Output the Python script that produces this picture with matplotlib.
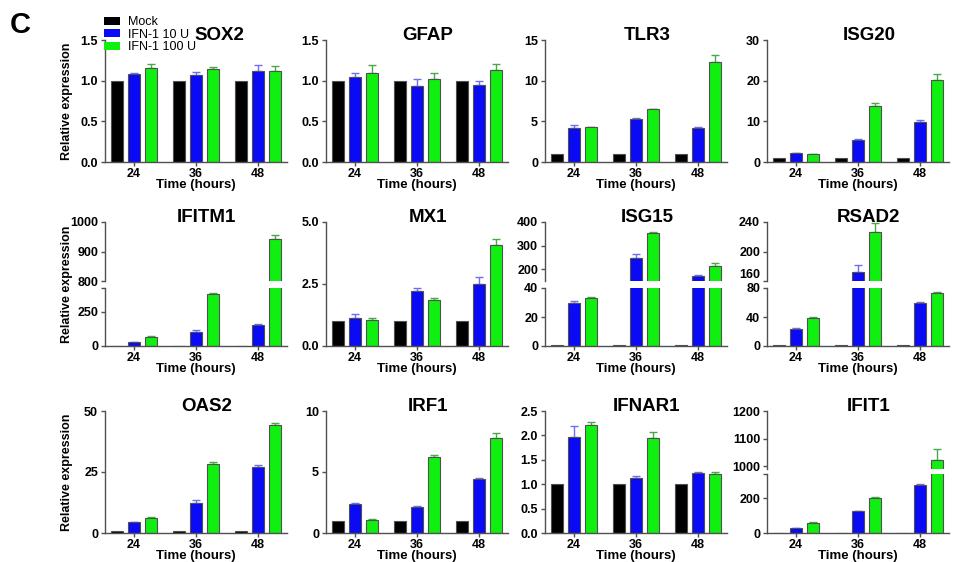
import matplotlib
matplotlib.use("Agg")
from matplotlib import pyplot as plt
from matplotlib.patches import Patch
import numpy as np

plt.rcParams["font.family"] = ["Liberation Sans", "DejaVu Sans"]
plt.rcParams["font.weight"] = "bold"

genes = ["SOX2", "GFAP", "TLR3", "ISG20",
         "IFITM1", "MX1", "ISG15", "RSAD2",
         "OAS2", "IRF1", "IFNAR1", "IFIT1"]
hours = ["24", "36", "48"]
series_names = ["Mock", "IFN-1 10 U", "IFN-1 100 U"]

mock_vals = [[1, 1, 1]] * 12

ifn10_vals = [[1.08, 1.07, 1.12], [1.04, 0.93, 0.95], [4.2, 5.3, 4.2], [2.2, 5.3, 9.8],
              [29, 103, 154], [1.12, 2.2, 2.5], [30, 247, 170], [23.4, 172, 59],
              [4.4, 12.3, 26.9], [2.35, 2.15, 4.45], [1.97, 1.12, 1.22], [29, 124, 276]]
ifn10_err = [[0.02, 0.04, 0.07], [0.06, 0.09, 0.04], [0.3, 0.1, 0.1], [0.1, 0.3, 0.6],
             [3, 12, 4], [0.16, 0.12, 0.28], [1, 17, 7], [0.8, 10, 2],
             [0.3, 1.4, 1.0], [0.15, 0.06, 0.06], [0.22, 0.04, 0.02], [2, 4, 7]]

ifn100_vals = [[1.15, 1.14, 1.12], [1.09, 1.02, 1.13], [4.25, 6.5, 12.3], [1.9, 13.7, 20.2],
               [66, 382, 943], [1.03, 1.85, 4.07], [33, 353, 212], [38.6, 227, 73],
               [6.3, 28.4, 44.1], [1.1, 6.2, 7.8], [2.22, 1.95, 1.2], [59, 200, 1024]]
ifn100_err = [[0.05, 0.03, 0.06], [0.10, 0.08, 0.08], [0.1, 0.05, 0.9], [0.1, 0.7, 1.4],
              [5, 8, 14], [0.11, 0.1, 0.26], [1, 3, 13], [0.8, 12, 1],
              [0.3, 0.8, 0.9], [0.03, 0.2, 0.4], [0.05, 0.12, 0.05], [2, 8, 40]]

# axis setup: (ylim, ticks, labels) ; broken panels have (upper, lower)
axis_cfg = {
    "SOX2": ((0, 1.5), [0, 0.5, 1.0, 1.5], ["0.0", "0.5", "1.0", "1.5"]),
    "GFAP": ((0, 1.5), [0, 0.5, 1.0, 1.5], ["0.0", "0.5", "1.0", "1.5"]),
    "TLR3": ((0, 15), [0, 5, 10, 15], ["0", "5", "10", "15"]),
    "ISG20": ((0, 30), [0, 10, 20, 30], ["0", "10", "20", "30"]),
    "MX1": ((0, 5), [0, 2.5, 5], ["0.0", "2.5", "5.0"]),
    "OAS2": ((0, 50), [0, 25, 50], ["0", "25", "50"]),
    "IRF1": ((0, 10), [0, 5, 10], ["0", "5", "10"]),
    "IFNAR1": ((0, 2.5), [0, 0.5, 1.0, 1.5, 2.0, 2.5],
               ["0.0", "0.5", "1.0", "1.5", "2.0", "2.5"]),
}
broken_cfg = {
    "IFITM1": (((800, 1000), [800, 900, 1000]), ((0, 425), [0, 250])),
    "ISG15": (((150, 400), [200, 300, 400]), ((0, 40), [0, 20, 40])),
    "RSAD2": (((160, 240), [160, 200, 240]), ((0, 80), [0, 40, 80])),
    "IFIT1": (((990, 1200), [1000, 1100, 1200]), ((0, 340), [0, 200])),
}
title_x = {"SOX2": 0.63}

colors = ["#000000", "#0A0AF5", "#10F010"]
err_colors = [None, "#6E6EF5", "#4CA64C"]
edge = "#505050"
W, H = 961, 562
col_left = [105, 326, 545, 767]
col_w = 182
rows = [(40, 162), (222, 346), (411, 533)]

fig = plt.figure(figsize=(W / 100, H / 100), dpi=100)


def px_axes(left, top, bottom):
    return fig.add_axes([left / W, 1 - bottom / H, col_w / W, (bottom - top) / H])


def style(ax, show_x=True):
    for s in ["top", "right"]:
        ax.spines[s].set_visible(False)
    for s in ["left", "bottom"]:
        ax.spines[s].set_color(edge)
        ax.spines[s].set_linewidth(1)
    ax.tick_params(direction="out", length=3, width=1, color=edge, labelsize=9, pad=2)
    ax.tick_params(axis="x", pad=1.5)
    ax.set_xlim(-0.47, 2.47)
    x = np.arange(3)
    if show_x:
        ax.set_xticks(x, hours)
        ax.set_xlabel("Time (hours)", fontsize=9.5, fontweight="bold", labelpad=-1)
    else:
        ax.spines["bottom"].set_visible(False)
        ax.set_xticks([])


def draw_bars(ax, i):
    x = np.arange(3)
    data = [(mock_vals[i], None), (ifn10_vals[i], ifn10_err[i]), (ifn100_vals[i], ifn100_err[i])]
    for j, (vals, errs) in enumerate(data):
        xs = x + (j - 1) * 0.274
        ax.bar(xs, vals, width=0.194, color=colors[j], edgecolor=edge, linewidth=0.8, zorder=2)
        if errs is not None:
            ax.errorbar(xs, vals, yerr=[np.zeros(3), errs], fmt="none", ecolor=err_colors[j],
                        elinewidth=1, capsize=3, capthick=1, zorder=1)


for i, g in enumerate(genes):
    r, c = divmod(i, 4)
    top, bottom = rows[r]
    if g in broken_cfg:
        (ulim, uticks), (llim, lticks) = broken_cfg[g]
        brk_hi, brk_lo = (bottom - 65, bottom - 58)
        if g == "IFIT1":
            brk_hi, brk_lo = (469, 474)
        ax_u = px_axes(col_left[c], top, brk_hi)
        ax_l = px_axes(col_left[c], brk_lo, bottom)
        draw_bars(ax_u, i)
        draw_bars(ax_l, i)
        ax_u.set_ylim(*ulim)
        ax_l.set_ylim(*llim)
        style(ax_u, show_x=False)
        style(ax_l)
        ax_u.set_yticks(uticks, [str(t) for t in uticks])
        if uticks[0] == ulim[0] and lticks[-1] == llim[1]:
            ax_u.get_yticklabels()[0].set_verticalalignment("bottom")
        lt, ll = list(lticks), [str(t) for t in lticks]
        if lt[-1] != llim[1]:
            lt.append(llim[1])
            ll.append("")
        ax_l.set_yticks(lt, ll)
        title_ax = ax_u
    else:
        ax = px_axes(col_left[c], top, bottom)
        draw_bars(ax, i)
        lim, ticks, labels = axis_cfg[g]
        ax.set_ylim(*lim)
        style(ax)
        ax.set_yticks(ticks, labels)
        title_ax = ax
    title_ax.text(title_x.get(g, 0.56), 1.0, g, transform=title_ax.transAxes, ha="center",
                  va="baseline", fontsize=13.5, fontweight="bold")
    if c == 0:
        fig.text(67 / W, 1 - (top + bottom) / 2 / H, "Relative expression", rotation=90,
                 ha="center", va="center", fontsize=9, fontweight="bold")

fig.text(10 / W, 1 - 33 / H, "C", fontsize=21, fontweight="bold", va="baseline")

handles = [Patch(facecolor=col, edgecolor="none") for col in colors]
fig.legend(handles, series_names, loc="upper left", bbox_to_anchor=(104 / W, 1 - 16 / H),
           frameon=False, prop={"size": 9, "weight": "normal"}, handlelength=1.3,
           handleheight=0.6, labelspacing=0.05, borderpad=0, borderaxespad=0,
           handletextpad=0.6)

fig.savefig("out.png", dpi=100)
